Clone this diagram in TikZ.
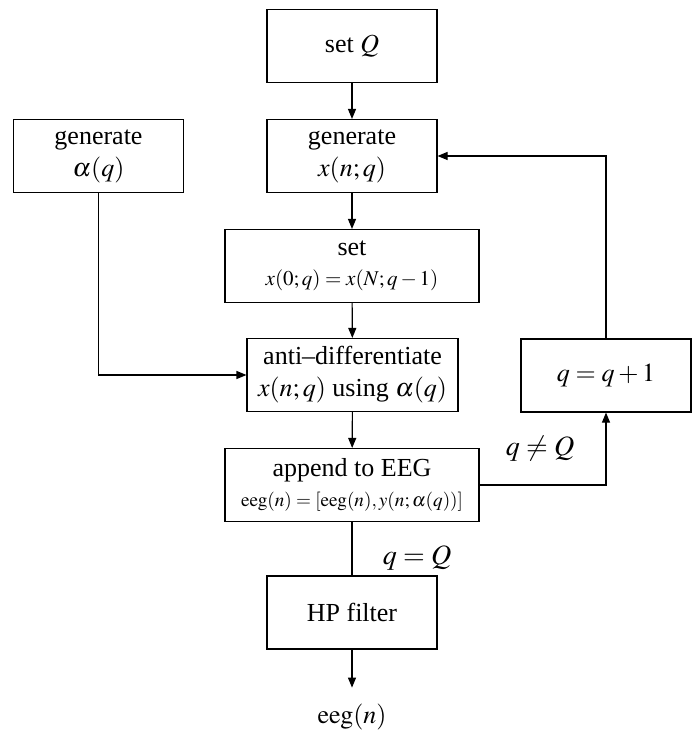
\documentclass[tikz,border=0pt]{standalone}
\usepackage{mathptmx}
\usepackage{fontspec}
\setmainfont{Liberation Serif}
\usetikzlibrary{arrows.meta}
\tikzset{
  block/.style={draw, line width=0.55pt, minimum width=85pt, minimum height=36.5pt, align=center, inner sep=2pt},
  wideblock/.style={block, minimum width=127pt},
  flow/.style={->, line width=0.55pt},
  cond/.style={font=\fontsize{14}{16}\selectfont}
}

\begin{document}
\begin{tikzpicture}[x=0.5pt, y=-0.5pt, font=\fontsize{13}{16}\selectfont, >={Triangle[length=5pt,width=4pt]}]
\useasboundingbox (0,0) rectangle (699,731);
\node[block] (setQ) at (352,46) {set $Q$};
\node[block] (gen) at (352,156) {generate\\$x(n;q)$};
\node[block] (alpha) at (98.5,156) {generate\\$\alpha(q)$};
\node[wideblock] (setx) at (352,266) {set\\[-1pt]\fontsize{10.5}{12}\selectfont $x(0;q)=x(N;q-1)$};
\node[block, minimum width=105.5pt] (anti) at (352.5,375) {anti--differentiate\\$x(n;q)$ using $\alpha(q)$};
\node[wideblock] (app) at (352,485) {append to EEG\\[-1pt]\fontsize{9.6}{12}\selectfont $\mathrm{eeg}(n)=[\mathrm{eeg}(n),y(n;\alpha(q))]$};
\node[block] (incr) at (606,375.5) {$q=q+1$};
\node[block] (hp) at (352,612.5) {HP filter};
\node[inner sep=8pt] (out) at (352,717) {$\mathrm{eeg}(n)$};

\draw[flow] (setQ) -- (gen);
\draw[flow] (gen) -- (setx);
\draw[flow] (setx) -- (anti);
\draw[flow] (anti) -- (app);
\draw[flow] (alpha) |- (anti);
\draw[line width=0.55pt] (app) -- (hp);
\draw[flow] (hp) -- (out);
\draw[flow] (app) -| (incr);
\draw[flow] (incr) |- (gen);

\node[cond] (eqQ) at (417,558) {$q=Q$};
\node[cond] (neQ) at (540,449) {$q\neq Q$};
\end{tikzpicture}
\end{document}
